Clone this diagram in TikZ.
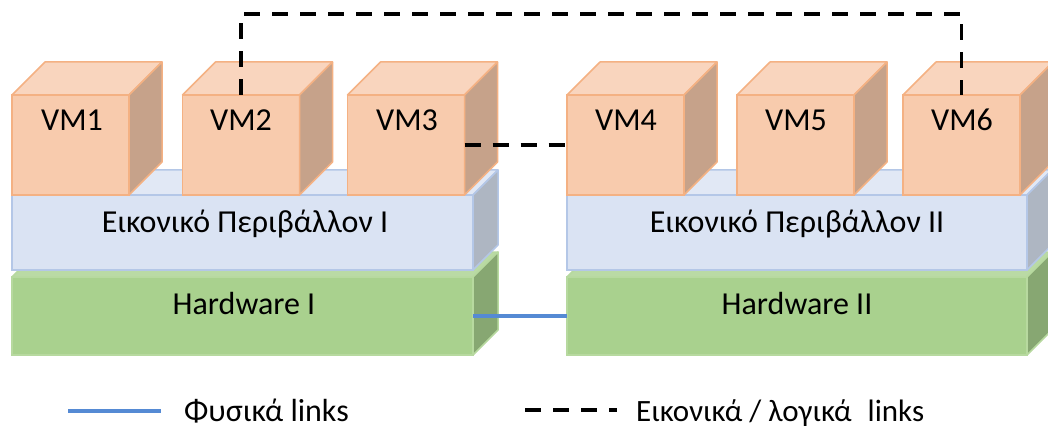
\documentclass[tikz,border=0pt]{standalone}
\usepackage{fontspec}
\setmainfont{Carlito}
\usetikzlibrary{calc}
\definecolor{vmfront}{HTML}{F8CBAD}
\definecolor{vmtop}{HTML}{F9D5BE}
\definecolor{vmside}{HTML}{C6A28A}
\definecolor{vmline}{HTML}{F4B183}
\definecolor{envfront}{HTML}{DAE3F3}
\definecolor{envtop}{HTML}{E1E8F5}
\definecolor{envside}{HTML}{AEB6C2}
\definecolor{envline}{HTML}{B4C7E7}
\definecolor{hwfront}{HTML}{A9D18E}
\definecolor{hwtop}{HTML}{BADAA5}
\definecolor{hwside}{HTML}{87A772}
\definecolor{hwline}{HTML}{B7D99F}
\definecolor{physblue}{HTML}{558AD4}
\newcommand\cubebox[7]{%
  \node[#7face, minimum width=#4pt, minimum height=#5pt] (#1) at (#2,#3) {};
  \draw[#7top] (#1.north west) -- ++(#6,-#6) -- ([shift={(#6,-#6)}]#1.north east) -- (#1.north east) -- cycle;
  \draw[#7side] (#1.north east) -- ++(#6,-#6) -- ([shift={(#6,-#6)}]#1.south east) -- (#1.south east) -- cycle;
}
\begin{document}
\begin{tikzpicture}[x=1pt,y=-1pt,
  vmface/.style={draw=vmline, fill=vmfront, line width=1.5pt, inner sep=0pt, outer sep=0pt},
  vmtop/.style={draw=vmline, fill=vmtop, line width=1.5pt, line join=round},
  vmside/.style={draw=vmline, fill=vmside, line width=1.5pt, line join=round},
  envface/.style={draw=envline, fill=envfront, line width=1.5pt, inner sep=0pt, outer sep=0pt},
  envtop/.style={draw=envline, fill=envtop, line width=1.5pt, line join=round},
  envside/.style={draw=envline, fill=envside, line width=1.5pt, line join=round},
  hwface/.style={draw=hwline, fill=hwfront, line width=1.5pt, inner sep=0pt, outer sep=0pt},
  hwtop/.style={draw=hwline, fill=hwtop, line width=1.5pt, line join=round},
  hwside/.style={draw=hwline, fill=hwside, line width=1.5pt, line join=round},
  lbl/.style={font=\fontsize{32}{38}\selectfont, inner sep=0pt, anchor=base},
  physlink/.style={draw=physblue, line width=4pt},
  virtlink/.style={draw=black, line width=3.5pt, dash pattern=on 16pt off 12pt}
]
\useasboundingbox (0,0) rectangle (1048,430);
\clip (0,0) rectangle (1048,430);
% hardware layers
\cubebox{hw1}{242.5}{316}{461}{78}{25}{hw}
\cubebox{hw2}{797}{316}{460}{78}{25}{hw}
% virtual environment layers
\cubebox{env1}{242.5}{232.5}{461}{75}{25}{env}
\cubebox{env2}{797}{232.5}{460}{75}{25}{env}
% VMs
\cubebox{vm1}{70.5}{145}{117}{100}{33}{vm}
\cubebox{vm2}{241}{145}{117}{100}{33}{vm}
\cubebox{vm3}{406}{145}{117}{100}{33}{vm}
\cubebox{vm4}{625.5}{145}{117}{100}{33}{vm}
\cubebox{vm5}{795.5}{145}{117}{100}{33}{vm}
\cubebox{vm6}{961.5}{145}{117}{100}{33}{vm}
% labels
\node[lbl] (t1) at (72,131) {VM1};
\node[lbl] (t2) at (241,131) {VM2};
\node[lbl] (t3) at (407,131) {VM3};
\node[lbl] (t4) at (626,131) {VM4};
\node[lbl] (t5) at (796,131) {VM5};
\node[lbl] (t6) at (962,131) {VM6};
\node[lbl] (te1) at (245,233) {Εικονικό Περιβάλλον I};
\node[lbl] (te2) at (797,233) {Εικονικό Περιβάλλον II};
\node[lbl] (th1) at (244,314) {Hardware I};
\node[lbl] (th2) at (797,314) {Hardware II};
% links
\draw[physlink] (hw1.east) -- (hw2.west);
\draw[virtlink] (vm3.east) -- (vm4.west);
\draw[virtlink] (vm2.north) -- ++(0,-81) -| (vm6.north);
% legend
\coordinate (lp1) at (68,410.7);
\coordinate (lp2) at (161,410.7);
\draw[physlink] (lp1) -- (lp2);
\node[lbl, anchor=base west] (lt1) at (184,421) {Φυσικά links};
\coordinate (lv1) at (525,410);
\coordinate (lv2) at (617,410);
\draw[virtlink] (lv1) -- (lv2);
\node[lbl, anchor=base west] (lt2) at (636,421) {\fontsize{31}{38}\selectfont Εικονικά / λογικά\hspace{16pt}links};
\end{tikzpicture}
\end{document}
